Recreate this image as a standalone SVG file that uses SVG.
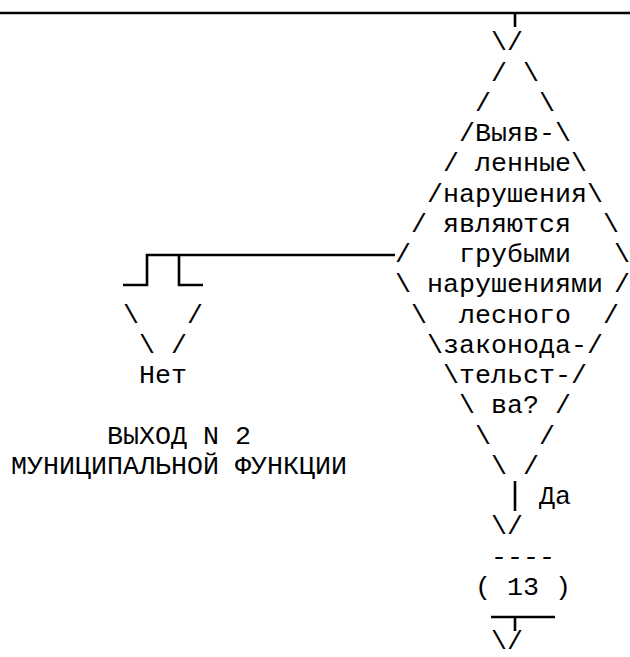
<svg xmlns="http://www.w3.org/2000/svg" width="630" height="657" viewBox="0 0 630 657">
<style>
text{font-family:"Liberation Mono","Courier New",monospace;font-size:26.67px;fill:#000;white-space:pre}
.ln{fill:none;stroke:#000;stroke-width:2.6}
</style>
<rect width="630" height="657" fill="#fff"/>
<g id="connectors">
<path class="ln" d="M0 13H630M515 13V27"/>
<text x="491" y="50.25" xml:space="preserve">\/</text>
<path class="ln" d="M395 255H147V285H123M179 255V285H203"/>
<text x="123" y="322.5" xml:space="preserve">\   /</text>
<text x="139" y="352.75" xml:space="preserve">\ /</text>
<path class="ln" d="M515 481V511"/>
<text x="539" y="504" xml:space="preserve">Да</text>
<text x="491" y="534.25" xml:space="preserve">\/</text>
<path class="ln" d="M491 617H555M515 617V631"/>
<text x="491" y="649" xml:space="preserve">\/</text>
</g>
<g id="decision">
<text x="491" y="80.5" xml:space="preserve">/ \</text>
<text x="475" y="110.75" xml:space="preserve">/   \</text>
<text x="459" y="141" xml:space="preserve">/Выяв-\</text>
<text x="443" y="171.25" xml:space="preserve">/ ленные\</text>
<text x="427" y="201.5" xml:space="preserve">/нарушения\</text>
<text x="411" y="231.75" xml:space="preserve">/ являются  \</text>
<text x="395" y="262" xml:space="preserve">/   грубыми</text>
<text x="614" y="262">\</text>
<text x="395" y="292.25" xml:space="preserve">\ нарушениями</text>
<text x="614" y="292.25">/</text>
<text x="411" y="322.5" xml:space="preserve">\  лесного  /</text>
<text x="427" y="352.75" xml:space="preserve">\законода-/</text>
<text x="443" y="383" xml:space="preserve">\тельст-/</text>
<text x="459" y="413.25" xml:space="preserve">\ ва? /</text>
<text x="475" y="443.5" xml:space="preserve">\   /</text>
<text x="491" y="473.75" xml:space="preserve">\ /</text>
</g>
<g id="exit2">
<text x="139" y="383" xml:space="preserve">Нет</text>
<text x="107" y="443.5" xml:space="preserve">ВЫХОД N 2</text>
<text x="11" y="473.75" xml:space="preserve">МУНИЦИПАЛЬНОЙ ФУНКЦИИ</text>
</g>
<g id="connector13">
<text x="491" y="564.5" xml:space="preserve">----</text>
<text x="475" y="594.75" xml:space="preserve">( 13 )</text>
</g>
</svg>
